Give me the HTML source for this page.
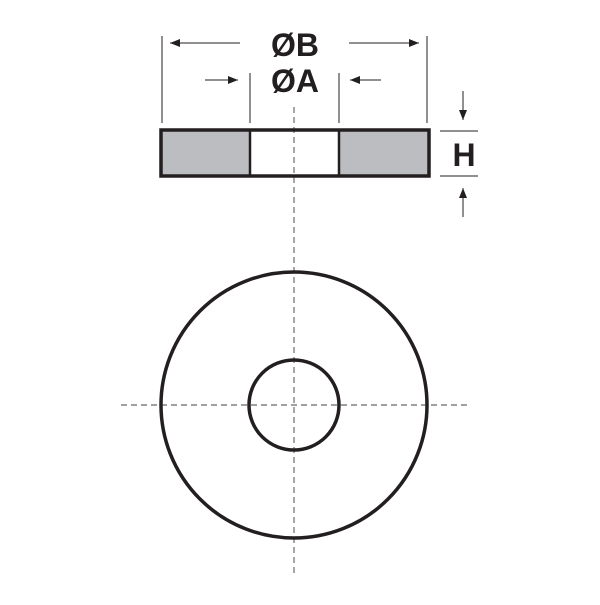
<!DOCTYPE html>
<html><head><style>body{margin:0;background:#fff}</style></head><body>
<svg width="600" height="600" viewBox="0 0 600 600" xmlns="http://www.w3.org/2000/svg">
<defs><marker id="a" markerWidth="10" markerHeight="8" refX="10" refY="4" orient="auto" markerUnits="userSpaceOnUse"><path d="M0,0 L10,4 L0,8 z" fill="#231f20"/></marker></defs>
<g stroke="#808080" stroke-width="1.4" stroke-dasharray="6,4" fill="none">
<line x1="294" y1="107" x2="294" y2="573"/>
<line x1="121" y1="405" x2="468" y2="405"/>
</g>
<rect x="162" y="130" width="88" height="46" fill="#bcbdc0"/>
<rect x="339" y="130" width="89" height="46" fill="#bcbdc0"/>
<g stroke="#231f20" fill="none">
<rect x="161" y="130" width="268" height="46" stroke-width="3.5"/>
<line x1="250" y1="130" x2="250" y2="176" stroke-width="2.5"/>
<line x1="339" y1="130" x2="339" y2="176" stroke-width="2.5"/>
<g stroke-width="1">
<line x1="162" y1="36" x2="162" y2="123"/>
<line x1="427" y1="36" x2="427" y2="123"/>
<line x1="250" y1="73" x2="250" y2="123"/>
<line x1="339" y1="73" x2="339" y2="123"/>
<line x1="240" y1="43" x2="170" y2="43" marker-end="url(#a)"/>
<line x1="349" y1="43" x2="419" y2="43" marker-end="url(#a)"/>
<line x1="205" y1="80" x2="238" y2="80" marker-end="url(#a)"/>
<line x1="381" y1="80" x2="350" y2="80" marker-end="url(#a)"/>
<line x1="440" y1="131" x2="478" y2="131"/>
<line x1="440" y1="176" x2="478" y2="176"/>
<line x1="463" y1="91" x2="463" y2="120" marker-end="url(#a)"/>
<line x1="463" y1="217" x2="463" y2="188" marker-end="url(#a)"/>
</g>
<circle cx="294" cy="405" r="133" stroke-width="3.5"/>
<circle cx="294" cy="405" r="45" stroke-width="3.5"/>
</g>
<g font-family="Liberation Sans, sans-serif" font-weight="bold" fill="#231f20" font-size="32" text-anchor="middle">
<text x="295" y="56">ØB</text>
<text x="295" y="92">ØA</text>
<text x="464" y="166">H</text>
</g>
</svg>
</body></html>
